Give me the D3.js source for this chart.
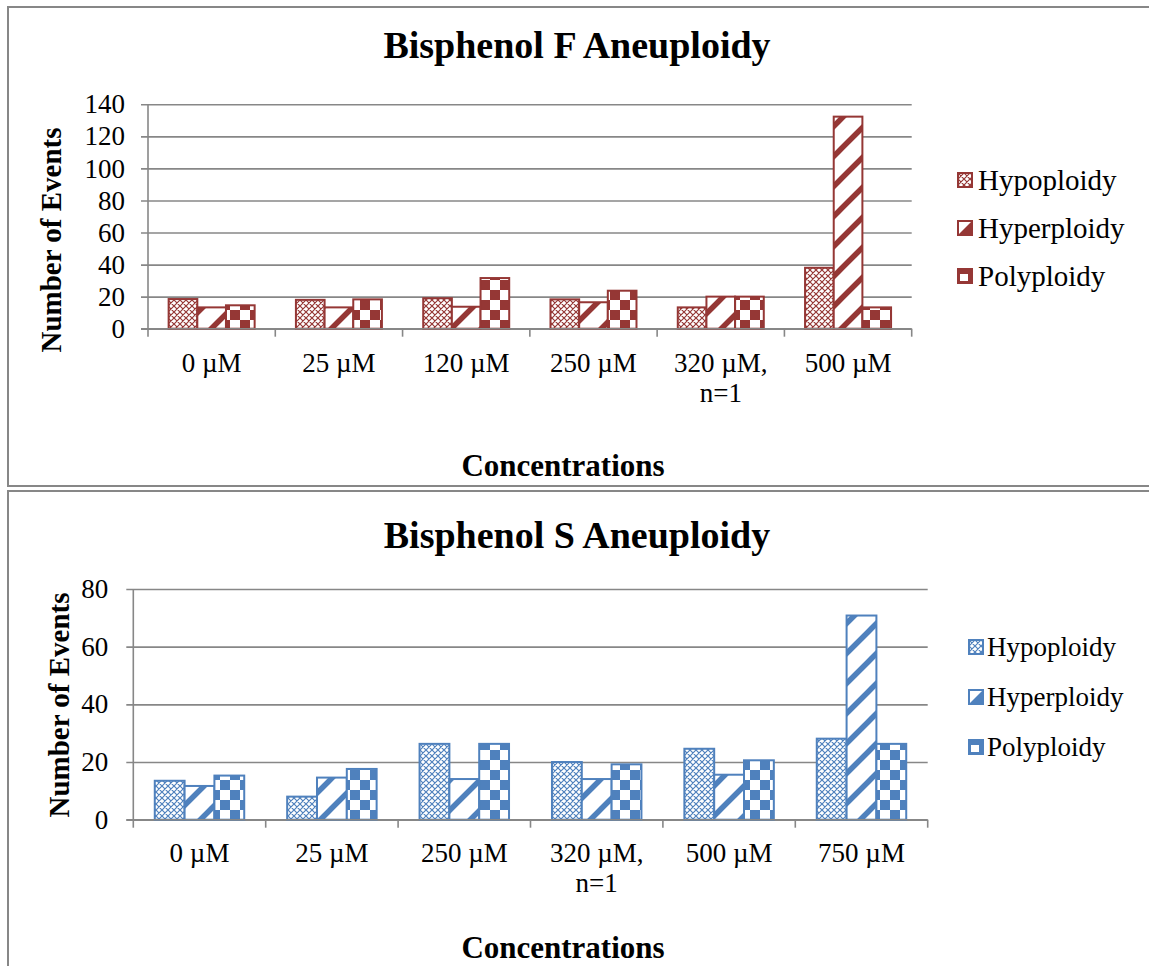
<!DOCTYPE html>
<html>
<head>
<meta charset="utf-8">
<script src="https://cdn.jsdelivr.net/npm/d3@7"></script>
<style>
  html, body { margin: 0; padding: 0; background: #fff; }
  svg { display: block; font-family: "Liberation Serif", "Times New Roman", serif; }
</style>
</head>
<body>
<svg id="chart" width="1149" height="966"></svg>
<script>
// ---------------- DATA ----------------
const seriesNames = ["Hypoploidy", "Hyperploidy", "Polyploidy"];

const categoriesF = [["0 µM"], ["25 µM"], ["120 µM"], ["250 µM"], ["320 µM,", "n=1"], ["500 µM"]];
const hypoF  = [18.5, 18, 19, 18.3, 13.3, 38];
const hyperF = [13.3, 13.3, 13.7, 16.5, 20, 132.3];
const polyF  = [14.6, 18.3, 31.6, 23.7, 20, 13.3];
const yTicksF = [0, 20, 40, 60, 80, 100, 120, 140];

const categoriesS = [["0 µM"], ["25 µM"], ["250 µM"], ["320 µM,", "n=1"], ["500 µM"], ["750 µM"]];
const hypoS  = [13.5, 8, 26.3, 20, 24.6, 28.1];
const hyperS = [11.7, 14.6, 14.1, 14.1, 15.6, 70.8];
const polyS  = [15.3, 17.6, 26.3, 19.2, 20.6, 26.3];
const yTicksS = [0, 20, 40, 60, 80];

// ---------------- DRAW ----------------
const svg = d3.select("#chart");
const defs = svg.append("defs");
const GRAY = "#878787";

function makePatterns(id, color) {
  // dotted diamond (Hypoploidy)
  const p1 = defs.append("pattern").attr("id", id + "-p0")
    .attr("patternUnits", "userSpaceOnUse").attr("width", 6).attr("height", 6);
  p1.append("rect").attr("width", 6).attr("height", 6).attr("fill", "#fff");
  p1.append("path").attr("d", "M0,0L6,6M6,0L0,6M-1,5L1,7M5,-1L7,1M-1,1L1,-1M5,7L7,5")
    .attr("stroke", color).attr("stroke-width", 1.2);
  // wide upward diagonal (Hyperploidy)
  const s = 30;
  const p2 = defs.append("pattern").attr("id", id + "-p1")
    .attr("patternUnits", "userSpaceOnUse").attr("width", s).attr("height", s);
  p2.append("rect").attr("width", s).attr("height", s).attr("fill", "#fff");
  p2.append("path").attr("d", `M-5,${s+5}L${s+5},-5M-5,5L5,-5M${s-5},${s+5}L${s+5},${s-5}`)
    .attr("stroke", color).attr("stroke-width", 5.5);
  // large checkerboard (Polyploidy)
  const c = 10;
  const p3 = defs.append("pattern").attr("id", id + "-p2")
    .attr("patternUnits", "userSpaceOnUse").attr("width", 2 * c).attr("height", 2 * c);
  p3.append("rect").attr("width", 2 * c).attr("height", 2 * c).attr("fill", "#fff");
  p3.append("rect").attr("x", 0).attr("y", 0).attr("width", c).attr("height", c).attr("fill", color);
  p3.append("rect").attr("x", c).attr("y", c).attr("width", c).attr("height", c).attr("fill", color);
}

function legendMarker(sel, i, color, id, lx) {
  const m = sel.append("g").attr("transform", `translate(${lx},-7)`);
  if (i === 0) {
    m.append("rect").attr("width", 14).attr("height", 14).attr("fill", `url(#${id}-p0)`)
      .attr("stroke", color).attr("stroke-width", 2);
  } else if (i === 1) {
    m.append("rect").attr("width", 14).attr("height", 14).attr("fill", "#fff");
    m.append("path").attr("d", "M0,14L14,0L14,14Z").attr("fill", color);
    m.append("rect").attr("width", 14).attr("height", 14).attr("fill", "none")
      .attr("stroke", color).attr("stroke-width", 2);
  } else {
    m.append("rect").attr("width", 14).attr("height", 14).attr("fill", color);
    m.append("rect").attr("x", 2).attr("y", 5).attr("width", 8).attr("height", 7).attr("fill", "#fff");
    m.append("rect").attr("width", 14).attr("height", 14).attr("fill", "none")
      .attr("stroke", color).attr("stroke-width", 2);
  }
}

function drawPanel(cfg) {
  const { id, color, title, cats, series, yTicks, yMax, x0, x1, yBottom, yTop,
          labelPad, titleY, catY, axisTitleX, axisTitleY, concY, legendX, legendTextX, legendY,
          legendFont, panelY, panelH } = cfg;
  makePatterns(id, color);
  const g = svg.append("g");

  // panel border
  g.append("rect").attr("x", 8).attr("y", panelY).attr("width", 1160).attr("height", panelH)
    .attr("fill", "none").attr("stroke", GRAY).attr("stroke-width", 2);

  const catKeys = cats.map(c => c.join(" "));
  const x = d3.scaleBand().domain(catKeys).range([x0, x1]).paddingInner(0).paddingOuter(0);
  const xs = d3.scaleBand().domain(seriesNames).range([0, x.bandwidth()]).paddingInner(0).paddingOuter(0.72);
  const y = d3.scaleLinear().domain([0, yMax]).range([yBottom, yTop]);

  // y axis with gridlines
  const ya = g.append("g").attr("transform", `translate(${x0 - 7},0)`)
    .call(d3.axisLeft(y).tickValues(yTicks).tickSize(-(x1 - x0 + 7)).tickPadding(labelPad).tickFormat(d3.format("d")));
  ya.select(".domain").remove();
  ya.selectAll(".tick line").attr("stroke", GRAY).attr("stroke-width", 1.6);
  ya.selectAll(".tick text").attr("font-family", "Liberation Serif").attr("font-size", 27).attr("fill", "#000");

  // y axis line
  g.append("line").attr("x1", x0).attr("x2", x0).attr("y1", y(0)).attr("y2", y(yMax))
    .attr("stroke", GRAY).attr("stroke-width", 1.6);

  // bars
  const data = [];
  catKeys.forEach((k, i) => series.forEach((s, j) => data.push({ k, j, v: s[i] })));
  g.append("g").selectAll("rect").data(data).join("rect")
    .attr("x", d => x(d.k) + xs(seriesNames[d.j]))
    .attr("y", d => y(d.v))
    .attr("width", xs.bandwidth())
    .attr("height", d => y(0) - y(d.v))
    .attr("fill", d => `url(#${id}-p${d.j})`)
    .attr("stroke", color).attr("stroke-width", 2);

  // x axis line and boundary ticks
  g.append("line").attr("x1", x0 - 7).attr("x2", x1).attr("y1", y(0)).attr("y2", y(0))
    .attr("stroke", GRAY).attr("stroke-width", 1.6);
  const bounds = catKeys.map(k => x(k)).concat([x1]);
  g.append("g").selectAll("line").data(bounds).join("line")
    .attr("x1", d => d).attr("x2", d => d).attr("y1", y(0)).attr("y2", y(0) + 8)
    .attr("stroke", GRAY).attr("stroke-width", 1.6);

  // category labels
  const cl = g.append("g").selectAll("text").data(cats).join("text")
    .attr("x", (d, i) => x(catKeys[i]) + x.bandwidth() / 2)
    .attr("y", catY).attr("text-anchor", "middle").attr("font-size", 27).attr("fill", "#000");
  cl.selectAll("tspan").data(d => d).join("tspan")
    .attr("x", function () { return d3.select(this.parentNode).attr("x"); })
    .attr("dy", (d, i) => i === 0 ? 0 : 30).text(d => d);

  // title
  g.append("text").attr("x", 577).attr("y", titleY).attr("text-anchor", "middle")
    .attr("font-size", 38).attr("font-weight", "bold").text(title);
  // axis titles
  g.append("text").attr("transform", `translate(${axisTitleX},${axisTitleY}) rotate(-90)`)
    .attr("text-anchor", "middle").attr("font-size", 29).attr("font-weight", "bold").text("Number of Events");
  g.append("text").attr("x", 563).attr("y", concY).attr("text-anchor", "middle")
    .attr("font-size", 31).attr("font-weight", "bold").text("Concentrations");

  // legend
  const lg = g.append("g").selectAll("g").data(seriesNames).join("g")
    .attr("transform", (d, i) => `translate(0,${legendY[i]})`);
  lg.each(function (d, i) { legendMarker(d3.select(this), i, color, id, legendX); });
  lg.append("text").attr("x", legendTextX).attr("y", 0).attr("dominant-baseline", "central")
    .attr("font-size", legendFont).attr("fill", "#000").text(d => d);
}

drawPanel({
  id: "f", color: "#953735", title: "Bisphenol F Aneuploidy",
  cats: categoriesF, series: [hypoF, hyperF, polyF], yTicks: yTicksF, yMax: 140,
  x0: 148, x1: 911.7, yBottom: 328.7, yTop: 104.3, labelPad: 16,
  titleY: 58, catY: 372, axisTitleX: 61, axisTitleY: 240, concY: 476,
  legendX: 958, legendTextX: 978, legendY: [180, 228, 276], legendFont: 29, panelY: 7, panelH: 479
});

drawPanel({
  id: "s", color: "#4F81BD", title: "Bisphenol S Aneuploidy",
  cats: categoriesS, series: [hypoS, hyperS, polyS], yTicks: yTicksS, yMax: 80,
  x0: 133.3, x1: 927.7, yBottom: 819.7, yTop: 589, labelPad: 18,
  titleY: 548, catY: 862, axisTitleX: 69, axisTitleY: 705, concY: 958,
  legendX: 969, legendTextX: 987, legendY: [647, 697, 747], legendFont: 27, panelY: 491, panelH: 500
});
</script>
</body>
</html>
